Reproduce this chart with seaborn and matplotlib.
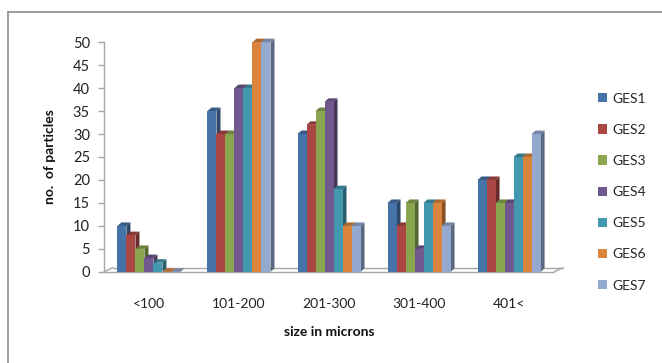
import matplotlib
matplotlib.use("Agg")
import matplotlib.pyplot as plt
from matplotlib.patches import Polygon, Patch
from matplotlib.lines import Line2D
import matplotlib.colors as mcolors
import numpy as np
import pandas as pd
import seaborn as sns

# size classes and particle counts for each sample
categories = ["<100", "101-200", "201-300", "301-400", "401<"]
series = ["GES1", "GES2", "GES3", "GES4", "GES5", "GES6", "GES7"]
ges1 = [10, 35, 30, 15, 20]
ges2 = [8, 30, 32, 10, 20]
ges3 = [5, 30, 35, 15, 15]
ges4 = [3, 40, 37, 5, 15]
ges5 = [2, 40, 18, 15, 25]
ges6 = [0, 50, 10, 15, 25]
ges7 = [0, 50, 10, 10, 30]
y_ticks = [0, 5, 10, 15, 20, 25, 30, 35, 40, 45, 50]

colors = ["#4572A7", "#AA4643", "#89A54E", "#71588F", "#4198AF", "#DB843D", "#93A9CF"]

values = [ges1, ges2, ges3, ges4, ges5, ges6, ges7]
df = pd.DataFrame(
    [(c, s, v) for s, vals in zip(series, values) for c, v in zip(categories, vals)],
    columns=["size", "sample", "count"],
)

sns.set_theme(style="white")
plt.rcParams["font.family"] = ["Lato", "DejaVu Sans"]

fig = plt.figure(figsize=(6.62, 3.63), dpi=100)
ax = fig.add_axes([0.157, 0.251, 0.680, 0.633])

sns.barplot(
    data=df, x="size", y="count", hue="sample", order=categories,
    hue_order=series, palette=colors, saturation=1, width=0.7,
    errorbar=None, legend=False, ax=ax, linewidth=0,
)

ax.set_xlim(-0.5, 4.5)
ax.set_ylim(0, 50)

# pseudo-3D depth offsets in data units
dx = 4.0 / (0.680 * 662) * 5.0
dy = 3.5 / (0.633 * 363) * 50.0

# draw bars left to right so each bar's front hides its left neighbour's side
bars = sorted(ax.patches, key=lambda b: b.get_x())
for i, p in enumerate(bars):
    z = 2 + i * 0.01
    x0 = p.get_x()
    w = p.get_width()
    h = p.get_height()
    base = np.array(mcolors.to_rgb(p.get_facecolor()))
    side = base * 0.62
    top = np.clip(base * 0.8, 0, 1)
    x1 = x0 + w
    p.set_zorder(z + 0.005)
    p.set_clip_on(False)
    ax.add_patch(Polygon([(x1, 0), (x1, h), (x1 + dx, h + dy), (x1 + dx, dy)],
                         closed=True, facecolor=side, edgecolor="none",
                         zorder=z, clip_on=False))
    ax.add_patch(Polygon([(x0, h), (x1, h), (x1 + dx, h + dy), (x0 + dx, h + dy)],
                         closed=True, facecolor=top, edgecolor="none",
                         zorder=z, clip_on=False))

# floor of the chart
floor_col = "#a6a6a6"
ax.plot([-0.5, 4.5], [0, 0], color=floor_col, lw=1.0, clip_on=False, zorder=1)
ax.plot([-0.5 + 2.2 * dx, 4.5 + 2.2 * dx], [1.2 * dy, 1.2 * dy], color=floor_col, lw=1.0,
        clip_on=False, zorder=1)
ax.plot([-0.5, -0.5 + 2.2 * dx], [0, 1.2 * dy], color=floor_col, lw=1.0, clip_on=False, zorder=1)
ax.plot([4.5, 4.5 + 2.2 * dx], [0, 1.2 * dy], color=floor_col, lw=1.0, clip_on=False, zorder=1)

for s in ["top", "right", "bottom"]:
    ax.spines[s].set_visible(False)
ax.spines["left"].set_color(floor_col)
ax.spines["left"].set_linewidth(1.0)

ax.set_yticks(y_ticks)
ax.tick_params(axis="y", left=True, length=4, width=1.0, color=floor_col,
               labelsize=10.5, labelcolor="#222222", pad=6)
ax.tick_params(axis="x", bottom=False, labelsize=10, labelcolor="#222222", pad=13)

ax.set_xlabel("size in microns", fontsize=10, fontweight="bold", color="#111111", labelpad=11)
ax.set_ylabel("no.  of particles", fontsize=10, fontweight="bold", color="#111111", labelpad=12)
ax.patch.set_alpha(0)

handles = [Patch(facecolor=c, edgecolor="none") for c in colors]
fig.legend(handles, series, loc="upper left", bbox_to_anchor=(0.893, 0.764),
           frameon=False, fontsize=10, handlelength=0.65, handleheight=0.65,
           handletextpad=0.35, labelspacing=1.38, borderpad=0)

# chart area frame
fig.add_artist(Line2D([0.012, 1.0], [0.967, 0.967], color="#8c8c8c", lw=1.2))
fig.add_artist(Line2D([0.012, 0.012], [0.0, 0.967], color="#8c8c8c", lw=1.2))

fig.savefig("out.png", dpi=100)
